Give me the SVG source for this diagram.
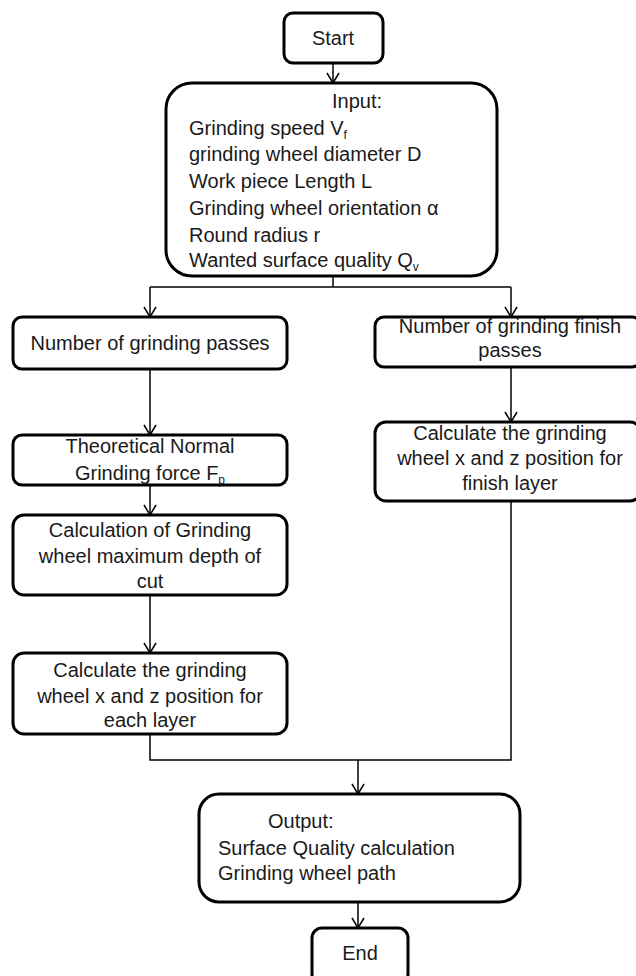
<svg xmlns="http://www.w3.org/2000/svg" width="636" height="976" viewBox="0 0 636 976">
<style>
.box{fill:#fff;stroke:#000;stroke-width:3}
.c{fill:none;stroke:#000;stroke-width:1.5}
text{font-family:"Liberation Sans",Arial,sans-serif;font-size:20px;fill:#1a1a1a}
.m{text-anchor:middle}
.sub{font-size:12px}
</style>
<defs>
<marker id="arr" viewBox="-1 -7 12 14" refX="10" refY="0" markerWidth="12" markerHeight="14" markerUnits="userSpaceOnUse" orient="auto">
<path d="M0,-6 L10,0 L0,6" fill="none" stroke="#000" stroke-width="1.5"/>
</marker>
</defs>
<rect width="636" height="976" fill="#fff"/>
<g id="connectors">
<line class="c" x1="333" y1="63" x2="333" y2="83" marker-end="url(#arr)"/>
<polyline class="c" points="333,276 333,287"/>
<polyline class="c" points="150,287 511,287"/>
<line class="c" x1="150" y1="287" x2="150" y2="317" marker-end="url(#arr)"/>
<line class="c" x1="511" y1="287" x2="511" y2="317" marker-end="url(#arr)"/>
<line class="c" x1="150" y1="369" x2="150" y2="435" marker-end="url(#arr)"/>
<line class="c" x1="150" y1="485" x2="150" y2="515" marker-end="url(#arr)"/>
<line class="c" x1="150" y1="595" x2="150" y2="653" marker-end="url(#arr)"/>
<line class="c" x1="511" y1="367" x2="511" y2="422" marker-end="url(#arr)"/>
<polyline class="c" points="150,734 150,760 511,760 511,501"/>
<line class="c" x1="358" y1="760" x2="358" y2="794" marker-end="url(#arr)"/>
<line class="c" x1="358" y1="902" x2="358" y2="928" marker-end="url(#arr)"/>
</g>
<g id="start">
<rect class="box" x="284" y="13" width="99" height="50" rx="9"/>
<text class="m" x="333" y="45">Start</text>
</g>
<g id="input">
<rect class="box" x="166" y="83" width="331" height="193" rx="26"/>
<text x="332" y="108">Input:</text>
<text x="189" y="135">Grinding speed V<tspan class="sub" dy="4">f</tspan></text>
<text x="189" y="161">grinding wheel diameter D</text>
<text x="189" y="188">Work piece Length L</text>
<text x="189" y="215">Grinding wheel orientation α</text>
<text x="189" y="242">Round radius r</text>
<text x="189" y="267">Wanted surface quality Q<tspan class="sub" dy="4">v</tspan></text>
</g>
<g id="passes">
<rect class="box" x="13" y="317" width="274" height="52" rx="9"/>
<text class="m" x="150" y="350">Number of grinding passes</text>
</g>
<g id="force">
<rect class="box" x="13" y="435" width="274" height="50" rx="9"/>
<text class="m" x="150" y="453">Theoretical Normal</text>
<text class="m" x="150" y="480">Grinding force F<tspan class="sub" dy="4">p</tspan></text>
</g>
<g id="depth">
<rect class="box" x="13" y="515" width="274" height="80" rx="11"/>
<text class="m" x="150" y="537">Calculation of Grinding</text>
<text class="m" x="150" y="563">wheel maximum depth of</text>
<text class="m" x="150" y="588">cut</text>
</g>
<g id="layer">
<rect class="box" x="13" y="653" width="274" height="81" rx="11"/>
<text class="m" x="150" y="677">Calculate the grinding</text>
<text class="m" x="150" y="703">wheel x and z position for</text>
<text class="m" x="150" y="727">each layer</text>
</g>
<g id="finish-passes">
<rect class="box" x="375" y="317" width="266" height="50" rx="9"/>
<text class="m" x="510" y="333">Number of grinding finish</text>
<text class="m" x="510" y="357">passes</text>
</g>
<g id="finish-layer">
<rect class="box" x="375" y="422" width="266" height="79" rx="11"/>
<text class="m" x="510" y="440">Calculate the grinding</text>
<text class="m" x="510" y="465">wheel x and z position for</text>
<text class="m" x="510" y="490">finish layer</text>
</g>
<g id="output">
<rect class="box" x="199" y="794" width="321" height="108" rx="20"/>
<text x="268" y="828">Output:</text>
<text x="218" y="855">Surface Quality calculation</text>
<text x="218" y="880">Grinding wheel path</text>
</g>
<g id="end">
<rect class="box" x="312" y="928" width="96" height="56" rx="10"/>
<text class="m" x="360" y="960">End</text>
</g>
</svg>
